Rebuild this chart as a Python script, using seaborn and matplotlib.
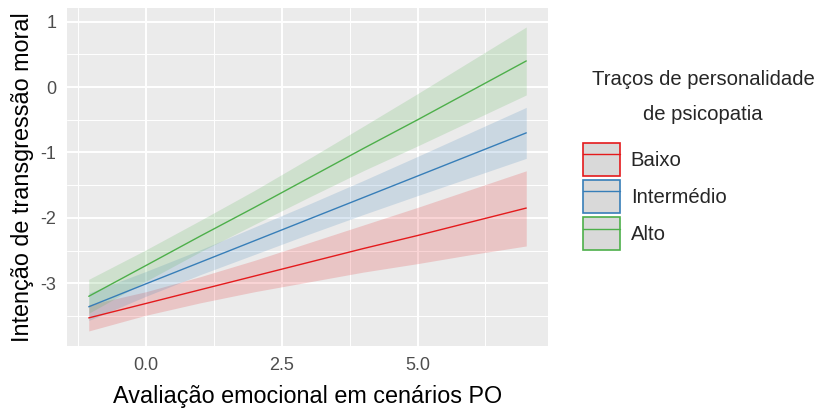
import numpy as np
import pandas as pd
import matplotlib.pyplot as plt
import seaborn as sns
from matplotlib.patches import Patch
from matplotlib.lines import Line2D

# Values
x_vals = [-1.05, 0, 1, 2, 3, 4, 5, 6, 7]
groups = ['Baixo', 'Intermédio', 'Alto']

fit_baixo = [-3.53, -3.31, -3.10, -2.89, -2.68, -2.47, -2.27, -2.06, -1.85]
lo_baixo = [-3.73, -3.49, -3.30, -3.13, -2.98, -2.83, -2.70, -2.56, -2.43]
hi_baixo = [-3.33, -3.13, -2.90, -2.65, -2.38, -2.11, -1.84, -1.56, -1.28]

fit_inter = [-3.36, -3.01, -2.68, -2.35, -2.02, -1.69, -1.36, -1.03, -0.70]
lo_inter = [-3.57, -3.20, -2.87, -2.56, -2.25, -1.95, -1.66, -1.375, -1.09]
hi_inter = [-3.15, -2.82, -2.49, -2.14, -1.79, -1.43, -1.06, -0.685, -0.31]

fit_alto = [-3.20, -2.73, -2.28, -1.84, -1.39, -0.94, -0.50, -0.05, 0.40]
lo_alto = [-3.46, -2.97, -2.52, -2.10, -1.685, -1.28, -0.90, -0.51, -0.12]
hi_alto = [-2.94, -2.49, -2.04, -1.58, -1.095, -0.60, -0.10, 0.41, 0.92]

x_ticks = [0, 2.5, 5.0]
x_ticklabels = ['0.0', '2.5', '5.0']
y_ticks = [-3, -2, -1, 0, 1]

colors = {'Baixo': '#E41A1C', 'Intermédio': '#377EB8', 'Alto': '#4DAF4A'}

# Long table for seaborn
df = pd.concat([
    pd.DataFrame({'x': x_vals, 'fit': fit, 'lo': lo, 'hi': hi, 'grupo': g})
    for g, fit, lo, hi in [
        ('Baixo', fit_baixo, lo_baixo, hi_baixo),
        ('Intermédio', fit_inter, lo_inter, hi_inter),
        ('Alto', fit_alto, lo_alto, hi_alto),
    ]
], ignore_index=True)

sns.set_theme(style='darkgrid', rc={'axes.facecolor': '#EBEBEB'})
plt.rcParams['font.family'] = ['Liberation Sans', 'DejaVu Sans']

fig = plt.figure(figsize=(8.21, 4.11), dpi=100)
ax = fig.add_axes([67 / 821, 1 - 346 / 411, (548 - 67) / 821, (346 - 8) / 411])

# confidence bands
for g in groups:
    sub = df[df['grupo'] == g]
    ax.fill_between(sub['x'], sub['lo'], sub['hi'], color=colors[g], alpha=0.18, lw=0, zorder=2)

sns.lineplot(data=df, x='x', y='fit', hue='grupo', hue_order=groups, palette=colors,
             ax=ax, legend=False, lw=1.0, zorder=3)

ax.set_xlim(-1.45, 7.4)
ax.set_ylim(-3.96, 1.21)
ax.set_xticks(x_ticks)
ax.set_xticklabels(x_ticklabels)
ax.set_yticks(y_ticks)
ax.set_yticklabels([str(v) for v in y_ticks])
ax.set_xticks([-1.25, 1.25, 3.75, 6.25], minor=True)
ax.set_yticks([-3.5, -2.5, -1.5, -0.5, 0.5], minor=True)
ax.grid(which='major', color='white', lw=1.4)
ax.grid(which='minor', color='white', lw=0.7)
ax.set_axisbelow(True)
for s in ax.spines.values():
    s.set_visible(False)
ax.tick_params(which='major', length=3.6, width=1, color='#333333', labelcolor='#4D4D4D',
               labelsize=13, pad=4)
ax.tick_params(which='minor', length=0)

ax.set_xlabel('Avaliação emocional em cenários PO', fontsize=16.8, color='black', labelpad=8)
ax.set_ylabel('Intenção de transgressão moral', fontsize=16.8, color='black', labelpad=5)

# legend title
fig.text(703 / 821, 1 - 85 / 411, 'Traços de personalidade', ha='center', va='baseline', fontsize=14.6)
fig.text(703 / 821, 1 - 120 / 411, 'de psicopatia', ha='center', va='baseline', fontsize=14.6)

handles = [(Patch(facecolor='#D9D9D9', edgecolor=colors[g], lw=1.2),
            Line2D([], [], color=colors[g], lw=1.0)) for g in groups]
leg = fig.legend(handles, groups, loc='upper left', bbox_to_anchor=(583 / 821, 1 - 143 / 411),
                 frameon=False, fontsize=14.6, handlelength=1.8, handleheight=2.1,
                 labelspacing=0.22, handletextpad=0.55, borderpad=0, borderaxespad=0)

plt.savefig('out.png', dpi=100)
